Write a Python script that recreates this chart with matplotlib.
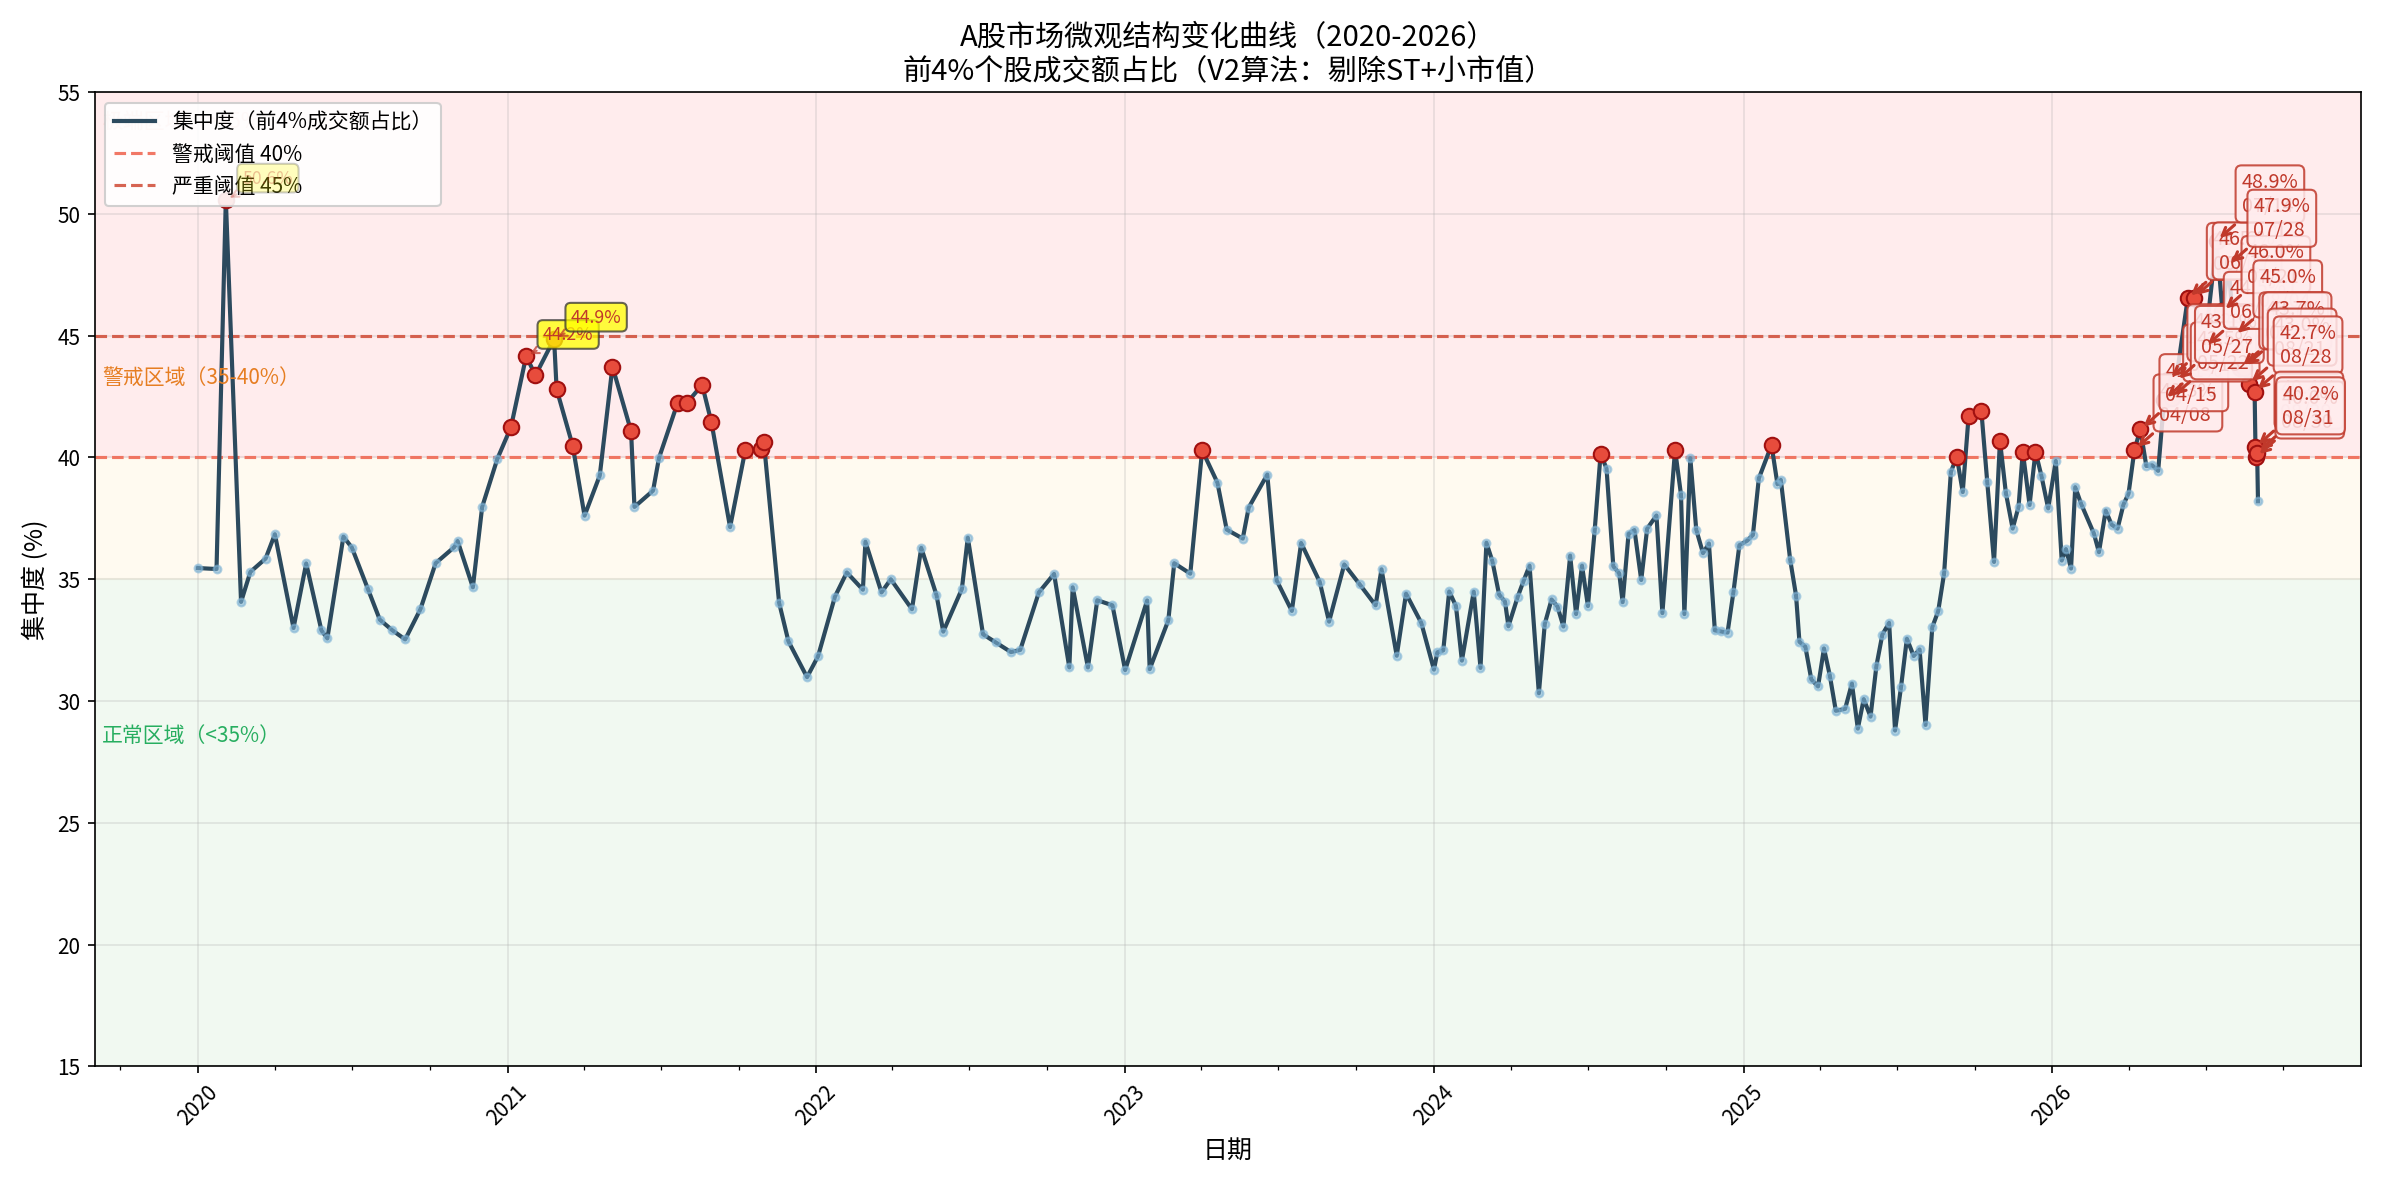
import numpy as np
import pandas as pd
import matplotlib
matplotlib.use("Agg")
import matplotlib.pyplot as plt
import matplotlib.dates as mdates

plt.rcParams['font.family'] = ['Noto Sans CJK SC', 'DejaVu Sans']
plt.rcParams['axes.unicode_minus'] = False

# decimal-year dates and concentration values (%)
years = [
 2020.00,2020.06,2020.09,2020.14,2020.17,2020.22,2020.25,2020.31,2020.35,2020.40,2020.42,2020.47,2020.50,2020.55,
 2020.59,2020.63,2020.67,2020.72,2020.77,2020.83,2020.84,2020.89,2020.92,2020.97,2021.01,2021.06,2021.09,2021.15,
 2021.16,2021.21,2021.25,2021.30,2021.34,2021.40,2021.41,2021.47,2021.49,2021.55,2021.58,2021.63,2021.66,2021.72,
 2021.77,2021.82,2021.83,2021.88,2021.91,2021.97,2022.006,2022.06,2022.10,2022.15,2022.16,2022.21,2022.24,2022.31,
 2022.34,2022.39,2022.41,2022.47,2022.49,2022.54,2022.58,2022.63,2022.66,2022.72,2022.77,2022.82,2022.83,2022.88,
 2022.91,2022.96,2023.00,2023.07,2023.08,2023.14,2023.16,2023.21,2023.25,2023.30,2023.33,2023.38,2023.40,2023.46,
 2023.49,2023.54,2023.57,2023.63,2023.66,2023.71,2023.76,2023.81,2023.83,2023.88,2023.91,2023.96,2024.00,2024.01,
 2024.03,2024.05,2024.07,2024.09,2024.13,2024.15,2024.17,2024.19,2024.21,2024.23,2024.24,2024.27,2024.29,2024.31,
 2024.34,2024.36,2024.38,2024.40,2024.42,2024.44,2024.46,2024.48,2024.50,2024.52,2024.54,2024.56,2024.58,2024.60,
 2024.61,2024.63,2024.65,2024.67,2024.69,2024.72,2024.74,2024.78,2024.80,2024.81,2024.83,2024.85,2024.87,2024.89,
 2024.91,2024.93,2024.95,2024.97,2024.99,2025.01,2025.03,2025.05,2025.09,2025.11,2025.12,2025.15,2025.17,2025.18,
 2025.20,2025.22,2025.24,2025.26,2025.28,2025.30,2025.33,2025.35,2025.37,2025.39,2025.41,2025.43,2025.45,2025.47,
 2025.49,2025.51,2025.53,2025.55,2025.57,2025.59,2025.61,2025.63,2025.65,2025.67,2025.69,2025.71,2025.73,2025.77,
 2025.79,2025.81,2025.83,2025.85,2025.87,2025.89,2025.905,2025.925,2025.945,2025.965,2025.985,2026.012,2026.03,
 2026.045,2026.06,2026.074,2026.092,2026.133,2026.152,2026.172,2026.191,2026.21,2026.23,
 2026.247,2026.266,2026.285,2026.304,2026.323,2026.342,2026.362,2026.375,2026.386,2026.400,2026.438,2026.458,
 2026.493,2026.532,2026.551,2026.570,2026.589,2026.608,2026.619,2026.636,2026.655,2026.658,2026.660,2026.663,2026.666]
values = [
 35.46,35.42,50.58,34.07,35.3,35.85,36.85,33.0,35.65,32.9,32.57,36.75,36.3,34.6,
 33.34,32.9,32.53,33.77,35.66,36.32,36.57,34.67,37.97,39.95,41.24,44.16,43.37,44.87,
 42.8,40.48,37.61,39.26,43.73,41.08,37.97,38.64,39.98,42.24,42.24,42.98,41.44,37.14,
 40.3,40.33,40.62,34.03,32.45,30.98,31.84,34.29,35.28,34.57,36.54,34.46,35.0,33.77,
 36.29,34.35,32.85,34.6,36.71,32.74,32.41,32.01,32.1,34.46,35.22,31.38,34.67,31.38,
 34.14,33.93,31.27,34.13,31.31,33.31,35.66,35.23,40.3,38.97,37.04,36.67,37.94,39.3,
 34.96,33.7,36.49,34.89,33.26,35.61,34.8,33.93,35.41,31.86,34.41,33.21,31.29,32.0,
 32.08,34.5,33.9,31.66,34.49,31.36,36.5,35.75,34.37,34.08,33.07,34.28,34.94,35.56,
 30.32,33.17,34.17,33.88,33.06,35.97,33.57,35.56,33.9,37.02,40.16,39.54,35.53,35.24,
 34.06,36.87,37.02,34.97,37.08,37.62,33.61,40.32,38.47,33.57,39.97,37.04,36.07,36.47,
 32.9,32.86,32.81,34.48,36.4,36.58,36.82,39.14,40.51,38.9,39.08,35.81,34.33,32.43,
 32.23,30.89,30.6,32.16,31.03,29.6,29.68,30.72,28.87,30.08,29.36,31.45,32.73,33.21,
 28.79,30.56,32.56,31.85,32.12,29.02,33.03,33.69,35.24,39.41,40.03,38.58,41.72,41.92,
 38.98,35.71,40.69,38.54,37.08,37.98,40.24,38.05,40.24,39.25,37.91,39.86,35.77,
 36.24,35.44,38.78,38.09,36.88,36.11,37.82,37.24,37.08,38.07,
 38.52,40.32,41.15,39.65,39.68,39.45,42.37,43.2,42.46,43.13,46.54,46.56,
 44.53,48.9,46.0,47.9,45.0,43.69,43.69,43.02,42.7,40.43,40.03,40.2,38.2]

yellow_labels = [50.58, 44.16, 44.87]

WARN, SEVERE = 40, 45

def to_date(y):
    yr = int(np.floor(y))
    return pd.Timestamp(yr, 1, 1) + pd.Timedelta(days=round((y - yr) * 365))

dates = pd.to_datetime([to_date(y) for y in years])
vals = np.array(values)

fig, ax = plt.subplots(figsize=(15.89, 7.91), dpi=150)
ax.axhspan(15, 35, color='#e8f5e9', alpha=0.6, zorder=0)
ax.axhspan(35, 40, color='#fff8e7', alpha=0.6, zorder=0)
ax.axhspan(40, 55, color='#ffe4e6', alpha=0.7, zorder=0)

ax.plot(dates, vals, color='#2c4a5e', lw=2, label='集中度（前4%成交额占比）', zorder=3)
ax.scatter(dates, vals, s=14, color='#7fb3d5', alpha=0.6, zorder=4)
ax.axhline(WARN, color='#f06a55', ls='--', lw=1.5, alpha=0.9, label='警戒阈值 40%', zorder=2)
ax.axhline(SEVERE, color='#d2533f', ls='--', lw=1.5, alpha=0.9, label='严重阈值 45%', zorder=2)

mask = vals > WARN
ax.scatter(dates[mask], vals[mask], s=55, color='#e74c3c', edgecolor='#a01010', lw=1, zorder=5)

for d, v in zip(dates[mask], vals[mask]):
    if d.year == 2026:
        ax.annotate(f'{v:.1f}%\n{d.strftime("%m/%d")}', xy=(d, v), xytext=(12, 14),
                    textcoords='offset points', fontsize=9.5, color='#c0392b', ha='left',
                    bbox=dict(boxstyle='round,pad=0.3', fc='#ffecee', ec='#c0392b', alpha=0.85),
                    arrowprops=dict(arrowstyle='->', color='#c0392b', lw=1.5), zorder=6)
    elif round(v, 2) in yellow_labels:
        al = 0.25 if v > 50 else 0.75
        ax.annotate(f'{v:.1f}%', xy=(d, v), xytext=(8, 8), textcoords='offset points',
                    fontsize=8.5, color='#c0392b', alpha=1 if v < 50 else 0.3,
                    bbox=dict(boxstyle='round,pad=0.3', fc='yellow', ec='#333333', alpha=al),
                    arrowprops=dict(arrowstyle='->', color='#c0392b', alpha=al), zorder=6)

x0 = pd.Timestamp('2019-09-10')
ax.text(x0, 53.8, '极端区域（>45%）', color='#e74c3c', alpha=0.3, fontsize=10, va='center')
ax.text(x0, 43.3, '警戒区域（35-40%）', color='#e67e22', fontsize=10, va='center')
ax.text(x0, 28.6, '正常区域（<35%）', color='#27ae60', fontsize=10, va='center')

ax.set_ylim(15, 55)
ax.set_title('A股市场微观结构变化曲线（2020-2026）\n前4%个股成交额占比（V2算法：剔除ST+小市值）',
             fontsize=14)
ax.set_xlabel('日期', fontsize=12)
ax.set_ylabel('集中度 (%)', fontsize=12)
ax.xaxis.set_major_locator(mdates.YearLocator())
ax.xaxis.set_major_formatter(mdates.DateFormatter('%Y'))
ax.xaxis.set_minor_locator(mdates.MonthLocator(bymonth=[4, 7, 10]))
plt.setp(ax.get_xticklabels(), rotation=45)
ax.grid(True, alpha=0.3)
ax.legend(loc='upper left', fontsize=10, framealpha=0.9)
fig.tight_layout()
fig.savefig('out.png', dpi=150)
